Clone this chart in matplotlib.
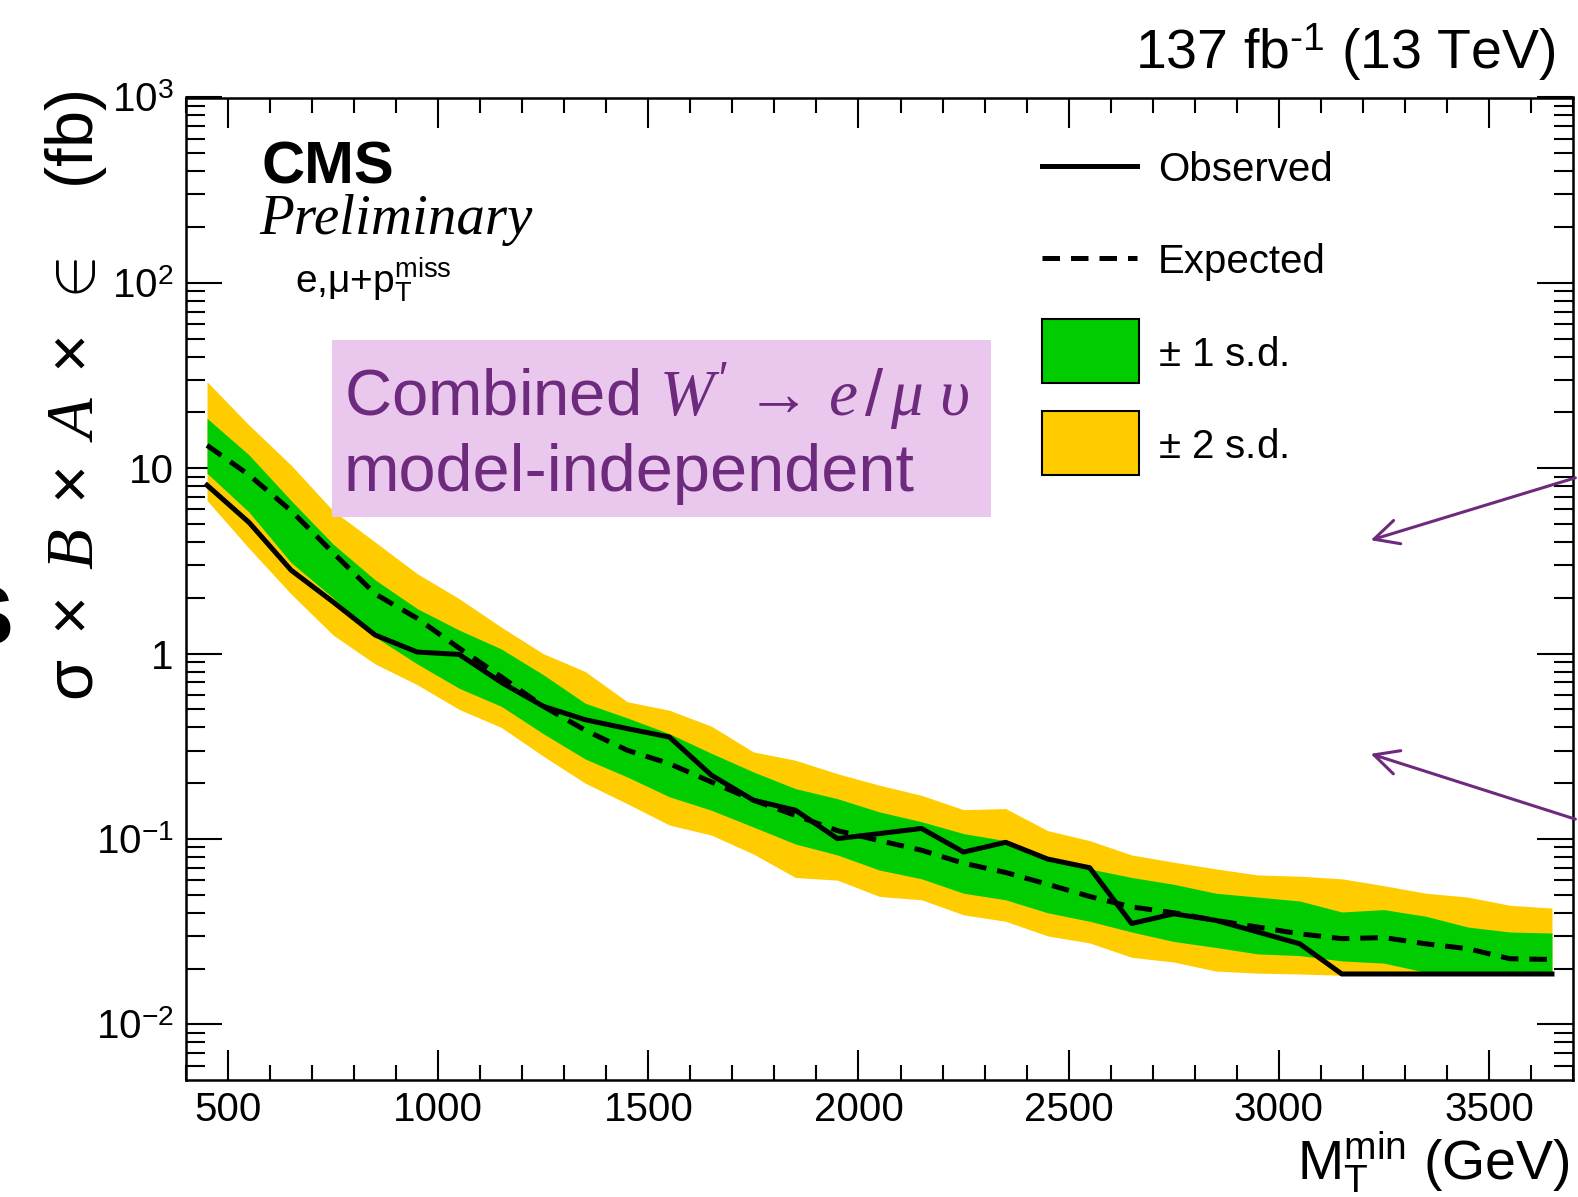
import numpy as np
import matplotlib
matplotlib.use("Agg")
import matplotlib.pyplot as plt
from matplotlib.lines import Line2D
from matplotlib.patches import Rectangle, FancyArrowPatch
from matplotlib.ticker import FixedLocator, MultipleLocator, LogLocator, NullFormatter, FixedFormatter

plt.rcParams['font.family'] = ['Liberation Sans', 'DejaVu Sans']
plt.rcParams['mathtext.fontset'] = 'custom'
plt.rcParams['mathtext.rm'] = 'Liberation Sans'
plt.rcParams['mathtext.it'] = 'Liberation Serif:italic'
plt.rcParams['mathtext.bf'] = 'Liberation Sans:bold'

# canvas in pixels
W, H, DPI = 1578, 1197, 100

GREEN = "#00CC00"
YELLOW = "#FFCC00"
PURPLE = "#6E2A7C"
LAVENDER = "#EAC8EE"
LINE_W = 3.6
DASHES = (3.5, 2.2)

# limits vs. minimum transverse mass threshold (GeV), cross sections in fb
mt_min = [450, 550, 650, 750, 850, 950, 1050, 1150, 1250, 1350, 1450,
          1550, 1650, 1750, 1850, 1950, 2050, 2150, 2250, 2350, 2450,
          2550, 2650, 2750, 2850, 2950, 3050, 3150, 3250, 3350, 3450,
          3550, 3650]
observed = [8.1, 5.1, 2.82, 1.9, 1.26, 1.02, 0.99, 0.70, 0.52, 0.44, 0.394,
            0.355, 0.221, 0.162, 0.143, 0.1005, 0.107, 0.114, 0.085, 0.096, 0.078,
            0.070, 0.035, 0.0395, 0.0364, 0.0315, 0.0272, 0.0187, 0.0187, 0.0187, 0.0187,
            0.0187, 0.0187]
expected = [13.3, 9.2, 5.9, 3.5, 2.1, 1.55, 1.07, 0.75, 0.52, 0.386, 0.301,
            0.255, 0.203, 0.162, 0.134, 0.111, 0.098, 0.087, 0.074, 0.066, 0.057,
            0.049, 0.043, 0.040, 0.0364, 0.0335, 0.0308, 0.029, 0.0294, 0.0272, 0.0256,
            0.0226, 0.0224]
one_sd_lo = [9.4, 5.8, 3.1, 2.0, 1.23, 0.88, 0.65, 0.52, 0.37, 0.27, 0.216,
             0.169, 0.143, 0.116, 0.094, 0.082, 0.068, 0.061, 0.051, 0.047, 0.040,
             0.036, 0.0315, 0.028, 0.026, 0.024, 0.0235, 0.022, 0.0214, 0.0191, 0.0191,
             0.0191, 0.0191]
one_sd_hi = [18.6, 11.8, 6.7, 3.9, 2.5, 1.75, 1.34, 1.06, 0.77, 0.54, 0.45,
             0.37, 0.29, 0.23, 0.187, 0.165, 0.14, 0.124, 0.107, 0.098, 0.078,
             0.069, 0.062, 0.057, 0.051, 0.0486, 0.0463, 0.0404, 0.0416, 0.0383, 0.0335,
             0.0315, 0.0311]
two_sd_lo = [6.7, 3.7, 2.1, 1.26, 0.88, 0.68, 0.50, 0.40, 0.28, 0.20, 0.155,
             0.119, 0.105, 0.083, 0.062, 0.060, 0.049, 0.047, 0.039, 0.036, 0.030,
             0.0275, 0.023, 0.0217, 0.0194, 0.0189, 0.0187, 0.0184, 0.0184, 0.0184, 0.0184,
             0.0184, 0.0184]
two_sd_hi = [29.3, 17.1, 10.4, 5.9, 4.0, 2.7, 1.98, 1.39, 1.0, 0.80, 0.55,
             0.495, 0.406, 0.295, 0.266, 0.225, 0.195, 0.172, 0.144, 0.146, 0.111,
             0.098, 0.082, 0.075, 0.069, 0.064, 0.063, 0.061, 0.056, 0.051, 0.0486,
             0.0439, 0.0424]

y_ticks = [1e-2, 1e-1, 1, 10, 1e2, 1e3]
y_tick_labels = ['$10^{-2}$', '$10^{-1}$', '1', '10', '$10^{2}$', '$10^{3}$']
x_ticks = [500, 1000, 1500, 2000, 2500, 3000, 3500]
legend_labels = ["Observed", "Expected", r"$\mathrm{\pm}$ 1 s.d.", r"$\mathrm{\pm}$ 2 s.d."]


def fx(x):
    return x / W


def fy(y):
    return 1 - y / H


fig = plt.figure(figsize=(W / DPI, H / DPI), dpi=DPI)
ax = fig.add_axes([fx(186), fy(1080), fx(1573) - fx(186), fy(97.5) - fy(1080)])

# bands, then expected and observed limits
ax.fill_between(mt_min, two_sd_lo, two_sd_hi, color=YELLOW, lw=0, zorder=1)
ax.fill_between(mt_min, one_sd_lo, one_sd_hi, color=GREEN, lw=0, zorder=2)
ax.plot(mt_min, expected, color="k", lw=LINE_W, dashes=DASHES, zorder=3)
ax.plot(mt_min, observed, color="k", lw=LINE_W, zorder=4)

ax.set_yscale("log")
ax.set_xlim(400, 3700)
ax.set_ylim(10 ** -2.3, 1e3)

ax.xaxis.set_major_locator(FixedLocator(x_ticks))
ax.xaxis.set_minor_locator(MultipleLocator(100))
ax.yaxis.set_major_locator(FixedLocator(y_ticks))
ax.yaxis.set_major_formatter(FixedFormatter(y_tick_labels))
ax.yaxis.set_minor_locator(LogLocator(base=10, subs=range(2, 10), numticks=20))
ax.yaxis.set_minor_formatter(NullFormatter())

ax.tick_params(which="both", direction="in", top=True, right=True, width=1.5,
               labelsize=29)
ax.tick_params(axis="x", which="major", length=21.6, pad=8)
ax.tick_params(axis="x", which="minor", length=10.8)
ax.tick_params(axis="y", which="major", length=26, pad=9)
ax.tick_params(axis="y", which="minor", length=13.5)
for s in ax.spines.values():
    s.set_linewidth(1.8)

# axis titles
fig.text(fx(1570), fy(1180), r'M$_{\mathrm{T}}^{\mathrm{min}}$ (GeV)', fontsize=40,
         ha="right", va="baseline")
fig.text(fx(76), fy(396),
         r'$\mathrm{\sigma}\ \times\ B\ \times\ A\ \times\ \in$   (fb)',
         fontsize=48, rotation=90, ha="center", va="center")
fig.text(fx(-42), fy(622), 'S', fontsize=60, fontweight="bold", ha="left", va="center")

# header and labels
fig.text(fx(1555), fy(68.5), '137 fb$^{\\mathrm{\u2010}1}$ (13 TeV)', fontsize=40,
         ha="right", va="baseline")
fig.text(fx(261), fy(184), 'CMS', fontsize=43, fontweight="bold", ha="left",
         va="baseline")
fig.text(fx(259), fy(233.5), 'Preliminary', fontsize=41, style="italic",
         family="Liberation Serif", ha="left", va="baseline")
fig.text(fx(295), fy(293), r'e,$\mathrm{\mu}$+p$_{\mathrm{T}}^{\mathrm{miss}}$',
         fontsize=28, ha="left", va="baseline")

# legend, drawn by hand in figure pixels
line_rows = [(166, {}), (257.6, {"dashes": DASHES})]
for (row_y, style), label in zip(line_rows, legend_labels[:2]):
    fig.add_artist(Line2D([fx(1042), fx(1137)], [fy(row_y), fy(row_y)],
                          transform=fig.transFigure, color="k", lw=LINE_W, **style))
    fig.text(fx(1158), fy(row_y), label, fontsize=29, ha="left", va="center_baseline")
box_rows = [(319, 383, GREEN), (410.6, 475, YELLOW)]
for (top, bottom, colour), label in zip(box_rows, legend_labels[2:]):
    fig.add_artist(Rectangle((fx(1042), fy(bottom)), fx(1139) - fx(1042), fy(top) - fy(bottom),
                             transform=fig.transFigure, facecolor=colour,
                             edgecolor="k", lw=1.5))
    fig.text(fx(1158), fy((top + bottom) / 2), label, fontsize=29, ha="left",
             va="center_baseline")

# highlighted caption box
fig.add_artist(Rectangle((fx(332), fy(517)), fx(991) - fx(332), fy(340) - fy(517),
                         transform=fig.transFigure, facecolor=LAVENDER,
                         edgecolor="none", zorder=5))
fig.text(fx(344), fy(416), r"Combined $W'\,\rightarrow\,e\,/\,\mu\ \upsilon$", fontsize=47,
         color=PURPLE, ha="left", va="baseline", zorder=6)
fig.text(fx(344), fy(491), "model-independent", fontsize=48, color=PURPLE,
         ha="left", va="baseline", zorder=6)

# pointers from the right edge
for tail, head in [((1578, 477), (1368, 541)), ((1578, 820), (1368, 753))]:
    fig.add_artist(FancyArrowPatch((fx(tail[0]), fy(tail[1])), (fx(head[0]), fy(head[1])),
                                   transform=fig.transFigure,
                                   arrowstyle="->,head_length=0.7,head_width=0.35",
                                   mutation_scale=25, color=PURPLE, lw=2.2, zorder=6))

fig.savefig("out.png", dpi=DPI)
